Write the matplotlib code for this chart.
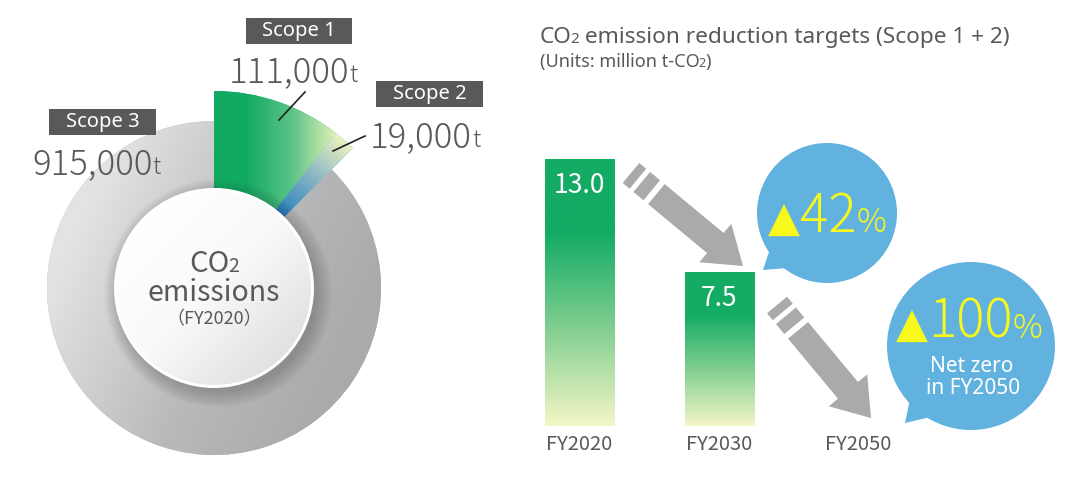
import numpy as np
import matplotlib.pyplot as plt
from matplotlib.colors import LinearSegmentedColormap
from matplotlib.patches import Circle, Polygon, Rectangle

JP = 'Noto Sans CJK JP'
LAT = 'Noto Sans'
plt.rcParams['font.family'] = [JP, 'DejaVu Sans']

# ---- data ----
scopes = ['Scope 1', 'Scope 2', 'Scope 3']
emissions = [111000, 19000, 915000]
emission_labels = ['111,000', '19,000', '915,000']
years = ['FY2020', 'FY2030', 'FY2050']
targets = [13.0, 7.5, 0.0]
cuts = ['42', '100']

W, H = 1080, 486
TXT = '#595959'
BLUE = '#62b2e0'
YELLOW = '#f8f81c'
ARROW = '#a9aaac'

fig = plt.figure(figsize=(W / 100, H / 100), dpi=100)
ax = fig.add_axes([0, 0, 1, 1])


def Y(y):
    # pixel row (from top) -> axis y
    return H - y


def grad(axis, patch, extent, t, colors, z):
    cmap = LinearSegmentedColormap.from_list('g', colors)
    im = axis.imshow(t, extent=extent, origin='lower', cmap=cmap, vmin=0, vmax=1,
                     aspect='auto', interpolation='bilinear', zorder=z)
    im.set_clip_path(patch)
    return im


def runs(parts, x, y, center=False, z=6, kern=0):
    # text pieces one after another on a common baseline
    # kern only tightens the gap after the first piece (e.g. "CO" -> "2")
    r = fig.canvas.get_renderer()
    objs, cur = [], x
    for i, (s, size, color, fam, weight) in enumerate(parts):
        t = ax.text(cur, y, s, fontsize=size, color=color, ha='left', va='baseline',
                    family=[fam, 'DejaVu Sans'], fontweight=weight, zorder=z)
        cur = t.get_window_extent(r).x1 - (kern if i == 0 else 0)
        objs.append(t)
    if center:
        shift = (cur - x) / 2
        for t in objs:
            px, py = t.get_position()
            t.set_position((px - shift, py))
    return objs


# ---- donut ----
cx, cy = 214, Y(288)
wedges, _ = ax.pie(emissions, startangle=90, counterclock=False, radius=167,
                   center=(cx, cy), wedgeprops=dict(width=70, linewidth=0))
wedges[0].set_facecolor('#12aa62')
wedges[1].set_facecolor('#5a9fc0')
wedges[2].set_facecolor('#b5b6b8')
for w in wedges[:2]:
    w.set_radius(197)
    w.set_width(97)
ax.set_xlim(0, W)
ax.set_ylim(0, H)

gx, gy = np.meshgrid(np.linspace(0, W, 541), np.linspace(0, H, 244))
full = (0, W, 0, H)
rr = np.hypot(gx - cx, gy - cy)

t1 = np.clip((gx - 245) / 95, 0, 1)
grad(ax, wedges[0], full, t1, [(0, '#12aa62'), (0.5, '#5cc487'), (1, '#eef5bb')], 2)
t2 = np.clip((rr - 100) / 97, 0, 1)
grad(ax, wedges[1], full, t2, [(0, '#2a82c0'), (0.5, '#89b5c4'), (1, '#ebf3bf')], 2)
a = np.radians(-25)
t3 = np.clip(((gx - cx) * np.cos(a) + (gy - cy) * np.sin(a)) / 300 + 0.5, 0, 1)
grad(ax, wedges[2], full, t3, [(0, '#e3e3e5'), (0.55, '#b9babc'), (1, '#a9aaac')], 2)

# inner disc with soft shadow
for k in range(16):
    ax.add_patch(Circle((cx + 4, cy - 5), 99 + k, fc='#2b2b2b', ec='none',
                        alpha=0.016, zorder=3))
ax.add_patch(Circle((cx, cy), 100, fc='white', ec='none', zorder=4))
disc = Circle((cx, cy), 97, fc='none', ec='none', zorder=4)
ax.add_patch(disc)
t4 = np.clip(((gx - cx) - (gy - cy)) * 0.7 / 200 + 0.5, 0, 1)
grad(ax, disc, full, t4, [(0, '#ffffff'), (0.5, '#f9f9f9'), (1, '#e0e0e0')], 4.5)

runs([('CO', 21, TXT, JP, 'normal'), ('2', 14, TXT, JP, 'normal')], cx, Y(272),
     center=True, kern=1)
ax.text(cx, Y(301), 'emissions', fontsize=20.5, color=TXT, ha='center', va='baseline', zorder=6)
ax.text(cx, Y(324), '（FY2020）', fontsize=13, color=TXT, ha='center', va='baseline', zorder=6)

# scope labels
boxes = [(246, 18, 106, 26), (376, 81, 107, 26), (49, 109, 107, 26)]
value_pos = [(229, 82), (370, 147), (32, 174)]
for name, lab, (bx, by, bw, bh), (vx, vy) in zip(scopes, emission_labels, boxes, value_pos):
    ax.add_patch(Rectangle((bx, Y(by + bh)), bw, bh, fc='#595959', ec='none', zorder=5))
    ax.text(bx + bw / 2, Y(by + bh / 2), name, fontsize=14.5, color='white', family=LAT,
            ha='center', va='center', zorder=6)
    runs([(lab, 25, TXT, JP, 'light'), ('t', 17, TXT, JP, 'light')], vx, Y(vy))

ax.plot([305, 279], [Y(92), Y(120)], color='#222222', lw=1.2, zorder=5)
ax.plot([365, 333], [Y(136), Y(151)], color='#222222', lw=1.2, zorder=5)

# ---- right side titles ----
runs([('CO', 16.3, TXT, LAT, 'normal'), ('2', 11, TXT, LAT, 'normal'),
      (' emission reduction targets (Scope 1 + 2)', 16.3, TXT, LAT, 'normal')],
     540, Y(43), kern=2)
runs([('(Units: million t-CO', 13, TXT, LAT, 'normal'), ('2', 9, TXT, LAT, 'normal'),
      (')', 13, TXT, LAT, 'normal')], 540, Y(67), kern=1)


# ---- arrows ----
def arrow(start, tip, shaft=26, head_w=50, head_l=36):
    s, t = np.array(start, float), np.array(tip, float)
    d = t - s
    L = np.hypot(*d)
    u = d / L
    n = np.array([-u[1], u[0]])

    def rect(p, q):
        return [s + u * p + n * shaft / 2, s + u * q + n * shaft / 2,
                s + u * q - n * shaft / 2, s + u * p - n * shaft / 2]

    for p, q in [(0, 9), (14, 27)]:
        ax.add_patch(Polygon(rect(p, q), fc=ARROW, ec='none', zorder=2))
    hb = L - head_l
    pts = [s + u * 33 + n * shaft / 2, s + u * hb + n * shaft / 2, s + u * hb + n * head_w / 2,
           t, s + u * hb - n * head_w / 2, s + u * hb - n * shaft / 2, s + u * 33 - n * shaft / 2]
    ax.add_patch(Polygon(pts, fc=ARROW, ec='none', zorder=2))


arrow((631, Y(173)), (743, Y(266)))
arrow((777, Y(305)), (871, Y(418)))


# ---- speech bubbles ----
def bubble(c, r, a1, a2, tip):
    ax.add_patch(Circle(c, r, fc=BLUE, ec='none', zorder=3))
    p1 = (c[0] + 0.92 * r * np.cos(np.radians(a1)), c[1] + 0.92 * r * np.sin(np.radians(a1)))
    p2 = (c[0] + 0.92 * r * np.cos(np.radians(a2)), c[1] + 0.92 * r * np.sin(np.radians(a2)))
    ax.add_patch(Polygon([p1, tip, p2], fc=BLUE, ec='none', zorder=3))


bubble((827, Y(213)), 70, 210, 238, (763, Y(270)))
bubble((971, Y(346)), 84, 219, 244, (905, Y(423)))

runs([('▲', 30, YELLOW, 'DejaVu Sans', 'normal'), (cuts[0], 38, YELLOW, JP, 'light'),
      ('%', 24, YELLOW, JP, 'light')], 827, Y(232), center=True)
runs([('▲', 30, YELLOW, 'DejaVu Sans', 'normal'), (cuts[1], 38, YELLOW, JP, 'light'),
      ('%', 24, YELLOW, JP, 'light')], 969, Y(338), center=True)
ax.text(972, Y(366), 'Net zero', fontsize=15, color='white', family=LAT,
        ha='center', va='center', zorder=6)
ax.text(973, Y(389), 'in FY2050', fontsize=15, color='white', family=LAT,
        ha='center', va='center', zorder=6)

ax.set_xlim(0, W)
ax.set_ylim(0, H)
ax.axis('off')

# ---- bars ----
axb = fig.add_axes([520 / W, (H - 426) / H, 380 / W, 267 / H])
axb.set_facecolor('none')
bars = axb.bar(range(len(years)), targets, width=0.495, color='#14ab64', linewidth=0)
ty = np.linspace(0, 1, 200).reshape(-1, 1)
for b, v in zip(bars, targets):
    if v <= 0:
        continue
    x0, bw = b.get_x(), b.get_width()
    grad(axb, b, (x0, x0 + bw, 0, v), ty,
         [(0, '#f4f6c6'), (0.36, '#82cf91'), (0.72, '#14ab64'), (1, '#14ab64')], 2)
    axb.annotate(f'{v:.1f}', (b.get_x() + bw / 2, v), xytext=(0, -19),
                 textcoords='offset points', ha='center', va='center',
                 fontsize=19, color='white', zorder=5)
axb.set_xlim(-0.427, 2.297)
axb.set_ylim(0, max(targets))
axb.set_xticks(range(len(years)), years)
axb.set_yticks([])
axb.tick_params(axis='x', length=0, pad=6, labelsize=14.5, labelcolor=TXT)
for sp in axb.spines.values():
    sp.set_visible(False)

fig.savefig('out.png', dpi=100)
